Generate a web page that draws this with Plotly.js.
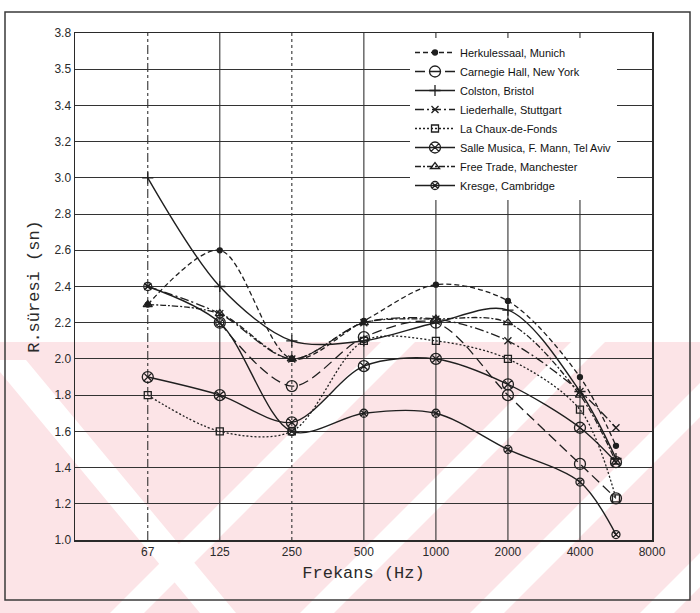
<!DOCTYPE html>
<html>
<head>
<meta charset="utf-8">
<script src="https://cdn.plot.ly/plotly-3.0.1.min.js"></script>
<style>
  html, body { margin: 0; padding: 0; background: #ffffff; }
  #chart { width: 700px; height: 613px; }
</style>
</head>
<body>
<div id="chart"></div>
<script>
// ---------------- data ----------------
const freqTickLabels = ['67', '125', '250', '500', '1000', '2000', '4000', '8000'];
const freqTickIdx    = [0, 1, 2, 3, 4, 5, 6, 7];          // octave-band index of each tick
const bandIdx        = [0, 1, 2, 3, 4, 5, 6, 6.5];        // octave-band index of each measurement

const yTickVals = [1.0, 1.2, 1.4, 1.6, 1.8, 2.0, 2.2, 2.4, 2.6, 2.8, 3.0, 3.2, 3.4, 3.6, 3.8];
const yTickText = ['1.0', '1.2', '1.4', '1.6', '1.8', '2.0', '2.2', '2.4', '2.6', '2.8', '3.0', '3.2', '3.4', '3.5', '3.8'];

const hallNames = [
  'Herkulessaal, Munich',
  'Carnegie Hall, New York',
  'Colston, Bristol',
  'Liederhalle, Stuttgart',
  'La Chaux-de-Fonds',
  'Salle Musica, F. Mann, Tel Aviv',
  'Free Trade, Manchester',
  'Kresge, Cambridge'
];

const herkulessaal = [2.30, 2.60, 2.00, 2.21, 2.41, 2.32, 1.90, 1.52];
const carnegie     = [null, 2.20, 1.85, 2.12, 2.20, 1.80, 1.42, 1.23];
const colston      = [3.00, 2.40, 2.10, 2.10, 2.20, 2.27, 1.82, 1.45];
const liederhalle  = [2.40, 2.25, 2.00, 2.20, 2.22, 2.10, 1.82, 1.62];
const laChaux      = [1.80, 1.60, 1.60, 2.10, 2.10, 2.00, 1.72, 1.23];
const salleMusica  = [1.90, 1.80, 1.65, 1.96, 2.00, 1.86, 1.62, 1.43];
const freeTrade    = [2.30, 2.25, 2.00, 2.20, 2.22, 2.20, 1.80, 1.43];
const kresge       = [2.40, 2.20, 1.60, 1.70, 1.70, 1.50, 1.32, 1.03];

const seriesValues = [herkulessaal, carnegie, colston, liederhalle, laChaux, salleMusica, freeTrade, kresge];

// ---------------- styles ----------------
const ink = '#1f1f1f';
const styles = [
  {dash: '5px,3px',          symbol: 'circle',          size: 5,  width: 1.3},
  {dash: '10px,5px',         symbol: 'circle-open',     size: 11, width: 1.3},
  {dash: 'solid',            symbol: 'cross-thin',      size: 8,  width: 1.4},
  {dash: '9px,3px,2px,3px',  symbol: 'x-thin',          size: 7,  width: 1.3},
  {dash: '2px,2px',          symbol: 'square-open',     size: 7,  width: 1.3},
  {dash: 'solid',            symbol: 'circle-x-open',   size: 11, width: 1.4},
  {dash: '6px,2px,2px,2px',  symbol: 'triangle-up-open',size: 8,  width: 1.3},
  {dash: 'solid',            symbol: 'circle-x-open',   size: 8,  width: 1.4}
];

const traces = hallNames.map((name, i) => ({
  type: 'scatter',
  mode: 'lines+markers',
  name: name,
  x: bandIdx,
  y: seriesValues[i],
  line: {color: ink, width: styles[i].width, dash: styles[i].dash, shape: 'spline', smoothing: 0.9},
  marker: {color: ink, symbol: styles[i].symbol, size: styles[i].size,
           line: {color: ink, width: 1.3}},
  cliponaxis: false
}));

// ---------------- layout helpers ----------------
const L = 75, R = 652, T = 33, B = 540, W = 700, H = 613;
const px2x = p => (p - L) / (R - L);
const px2y = p => (B - p) / (B - T);

// watermark (pale pink band with white diagonal stripes)
const shapes = [];
shapes.push({type: 'rect', xref: 'paper', yref: 'paper', layer: 'below',
  x0: px2x(-5), x1: px2x(W + 5), y0: px2y(H + 5), y1: px2y(342),
  fillcolor: '#fce4e7', line: {width: 0}});
const stripeStarts = [110, 300, 470, 640];   // bottom-left pixel x of "/" stripes
stripeStarts.forEach(s => {
  const w = 34, h = H - 342;
  const p = [[s, H], [s + w, H], [s + w + h, 342], [s + h, 342]];
  shapes.push({type: 'path', xref: 'paper', yref: 'paper', layer: 'below',
    path: 'M' + p.map(q => px2x(q[0]) + ',' + px2y(q[1])).join(' L') + ' Z',
    fillcolor: '#ffffff', line: {width: 0}});
});
// "\" stripe on the left
{
  const p = [[-10, 360], [26, 360], [236, H], [200, H]];
  shapes.push({type: 'path', xref: 'paper', yref: 'paper', layer: 'below',
    path: 'M' + p.map(q => px2x(q[0]) + ',' + px2y(q[1])).join(' L') + ' Z',
    fillcolor: '#ffffff', line: {width: 0}});
}

// vertical grid lines at each frequency band
const vDash = ['dashdot', 'solid', 'dot', 'solid', 'solid', 'solid', 'solid'];
freqTickIdx.slice(0, 7).forEach((xi, k) => {
  shapes.push({type: 'line', xref: 'x', yref: 'paper', layer: 'below',
    x0: xi, x1: xi, y0: 0, y1: 1, line: {color: '#333', width: 1.1, dash: vDash[k]}});
});

// outer frame
shapes.push({type: 'rect', xref: 'paper', yref: 'paper', layer: 'above',
  x0: px2x(5), x1: px2x(690), y0: px2y(600), y1: px2y(12),
  line: {color: '#3a3a3a', width: 1.5}, fillcolor: 'rgba(0,0,0,0)'});

const tickFont = {family: '"Liberation Sans Narrow", "Liberation Sans", Arial, sans-serif', size: 12, color: '#2a2a2a'};
const monoFont = {family: '"Liberation Mono", "DejaVu Sans Mono", monospace', size: 17, color: '#2a2a2a'};

const layout = {
  width: W, height: H,
  margin: {l: L, r: W - R, t: T, b: H - B},
  paper_bgcolor: '#ffffff',
  plot_bgcolor: 'rgba(0,0,0,0)',
  showlegend: true,
  legend: {
    x: px2x(410), y: px2y(38), xanchor: 'left', yanchor: 'top',
    bgcolor: '#ffffff', borderwidth: 0,
    font: {family: '"Liberation Sans Narrow", "Liberation Sans", Arial, sans-serif', size: 11, color: '#111'},
    itemwidth: 40, tracegroupgap: 0
  },
  xaxis: {
    range: [-1.01, 7],
    tickmode: 'array', tickvals: freqTickIdx, ticktext: freqTickLabels,
    showgrid: false, zeroline: false,
    showline: true, mirror: true, linecolor: '#2a2a2a', linewidth: 1.5,
    ticks: '', tickfont: tickFont,
    title: {text: 'Frekans (Hz)', font: monoFont, standoff: 8}
  },
  yaxis: {
    range: [1.0, 3.8],
    tickmode: 'array', tickvals: yTickVals, ticktext: yTickText,
    showgrid: true, gridcolor: '#333', gridwidth: 1.1, zeroline: false,
    showline: true, mirror: true, linecolor: '#2a2a2a', linewidth: 1.5,
    ticks: '', tickfont: tickFont,
    title: {text: 'R.süresi (sn)', font: monoFont, standoff: 10}
  },
  shapes: shapes
};

Plotly.newPlot('chart', traces, layout, {displayModeBar: false, staticPlot: true});
</script>
</body>
</html>
